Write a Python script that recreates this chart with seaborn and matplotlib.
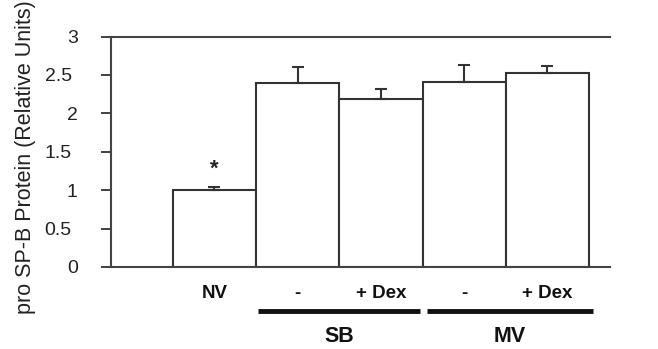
import matplotlib
matplotlib.use("Agg")
import matplotlib.pyplot as plt
import matplotlib.transforms as mtransforms
import seaborn as sns
import pandas as pd

categories = ["NV", "SB -", "SB + Dex", "MV -", "MV + Dex"]
tick_labels = ["NV", "-", "+ Dex", "-", "+ Dex"]
values = [1.00, 2.40, 2.19, 2.41, 2.52]
errors = [0.04, 0.20, 0.13, 0.22, 0.10]
groups = ["SB", "MV"]
group_spans = [(0.52, 2.47), (2.55, 4.55)]
yticks = [0, 0.5, 1, 1.5, 2, 2.5, 3]
ytick_labels = ["0", "0.5", "1", "1.5", "2", "2.5", "3"]

sns.set_theme(style="white")
plt.rcParams["font.family"] = ["Liberation Sans", "DejaVu Sans"]

df = pd.DataFrame({"cat": categories, "val": values})

fig = plt.figure(figsize=(6.58, 3.49), dpi=100)
ax = fig.add_axes([0.1687, 0.235, 0.927 - 0.1687, 0.8954 - 0.235])
edge = "#333333"
sns.barplot(data=df, x="cat", y="val", order=categories, color="white",
            edgecolor=edge, linewidth=1.5, width=1.0, errorbar=None, ax=ax)
for p in ax.patches:
    p.set_facecolor("white")

xs = list(range(len(categories)))
ax.errorbar(xs, values, yerr=[[0] * len(errors), errors], fmt="none",
            ecolor=edge, elinewidth=1.5, capsize=4.5, capthick=1.5, zorder=3)

# significance asterisk above NV
ax.annotate("*", xy=(0, values[0] + errors[0]), xytext=(0, 5),
            textcoords="offset points", ha="center", va="bottom",
            fontsize=16, fontweight="bold", color="#222222")

ax.set_xlim(-1.24, 4.75)
ax.set_ylim(0, 3)
ax.set_yticks(yticks)
ax.set_yticklabels(ytick_labels, fontsize=14, color="#222222")
ax.set_xticks(xs)
ax.set_xticklabels(tick_labels, fontsize=13.5, fontweight="bold", color="#111111")
ax.tick_params(axis="x", length=0, pad=13)
ax.tick_params(axis="y", left=True, length=7.5, width=1.3, color=edge, pad=16.5)
# decimal labels sit a little further left than the integer labels
for lab in ax.get_yticklabels():
    if "." in lab.get_text():
        lab.set_transform(lab.get_transform() +
                          mtransforms.ScaledTranslation(-6 / 100, 0, fig.dpi_scale_trans))
ax.set_xlabel("")
ax.set_ylabel("pro SP-B Protein (Relative Units)", fontsize=15.5, color="#222222")
ax.yaxis.set_label_coords(-0.150, 0.478)

for side in ["left", "top", "bottom"]:
    ax.spines[side].set_visible(True)
    ax.spines[side].set_color("#444444")
    ax.spines[side].set_linewidth(1.5)
ax.spines["right"].set_visible(False)

trans = mtransforms.blended_transform_factory(ax.transData, ax.transAxes)
for name, (x0, x1) in zip(groups, group_spans):
    ax.plot([x0, x1], [-0.19, -0.19], transform=trans, color="#111111",
            linewidth=3.5, solid_capstyle="butt", clip_on=False)
    ax.text((x0 + x1) / 2, -0.30, name, transform=trans, ha="center", va="center",
            fontsize=15.5, fontweight="bold", color="#111111")

fig.savefig("out.png", dpi=100, facecolor="white")
